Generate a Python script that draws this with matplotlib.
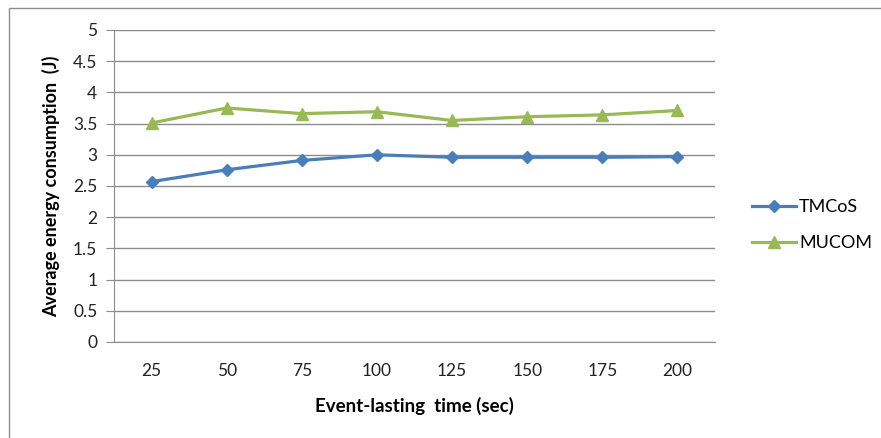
import matplotlib
matplotlib.use('Agg')
import matplotlib.pyplot as plt
from matplotlib.patches import Rectangle

# event-lasting time (sec) and average energy consumption (J)
times = ['25', '50', '75', '100', '125', '150', '175', '200']
tmcos = [2.57, 2.76, 2.91, 3.00, 2.96, 2.96, 2.96, 2.97]
mucom = [3.51, 3.75, 3.66, 3.69, 3.55, 3.61, 3.64, 3.71]

plt.rcParams['font.family'] = ['Lato', 'DejaVu Sans']

fig = plt.figure(figsize=(8.81, 4.38), dpi=100)
fig.patches.append(Rectangle((9 / 881, -0.1), 1.2, 1 - 8 / 438 + 0.1, transform=fig.transFigure,
                             fill=False, edgecolor='#8c8c8c', linewidth=1.0))
ax = fig.add_axes([114 / 881, 96 / 438, 601 / 881, 312 / 438])

x = list(range(len(times)))
ax.plot(x, tmcos, color='#4a7ebb', linewidth=2.3, marker='D', markersize=6.5, label='TMCoS')
ax.plot(x, mucom, color='#98b954', linewidth=2.3, marker='^', markersize=8, label='MUCOM')

ax.set_xlim(-0.5, len(times) - 0.5)
ax.set_ylim(0, 5)
ax.set_yticks([i * 0.5 for i in range(11)])
ax.set_yticklabels(['0', '0.5', '1', '1.5', '2', '2.5', '3', '3.5', '4', '4.5', '5'])
ax.set_xticks(x)
ax.set_xticklabels(times)
ax.grid(axis='y', color='#8c8c8c', linewidth=1.0)
ax.set_axisbelow(True)
for side in ['top', 'right']:
    ax.spines[side].set_visible(False)
ax.spines['left'].set_color('#8c8c8c')
ax.spines['bottom'].set_color('#8c8c8c')
ax.tick_params(axis='y', length=6, color='#8c8c8c', labelsize=12.5, pad=6, labelcolor='#222222')
ax.tick_params(axis='x', length=0, labelsize=12.5, pad=15, labelcolor='#222222')

ax.set_xlabel('Event-lasting  time (sec)', fontsize=13.5, fontweight='bold', labelpad=13)
ax.set_ylabel('Average energy consumption  (J)', fontsize=13, fontweight='bold', labelpad=9)

ax.legend(loc='center left', bbox_to_anchor=(1.035, 0.375), frameon=False, fontsize=13,
          handlelength=2.4, labelspacing=1.1, handletextpad=0.2)

fig.savefig('out.png', dpi=100)
